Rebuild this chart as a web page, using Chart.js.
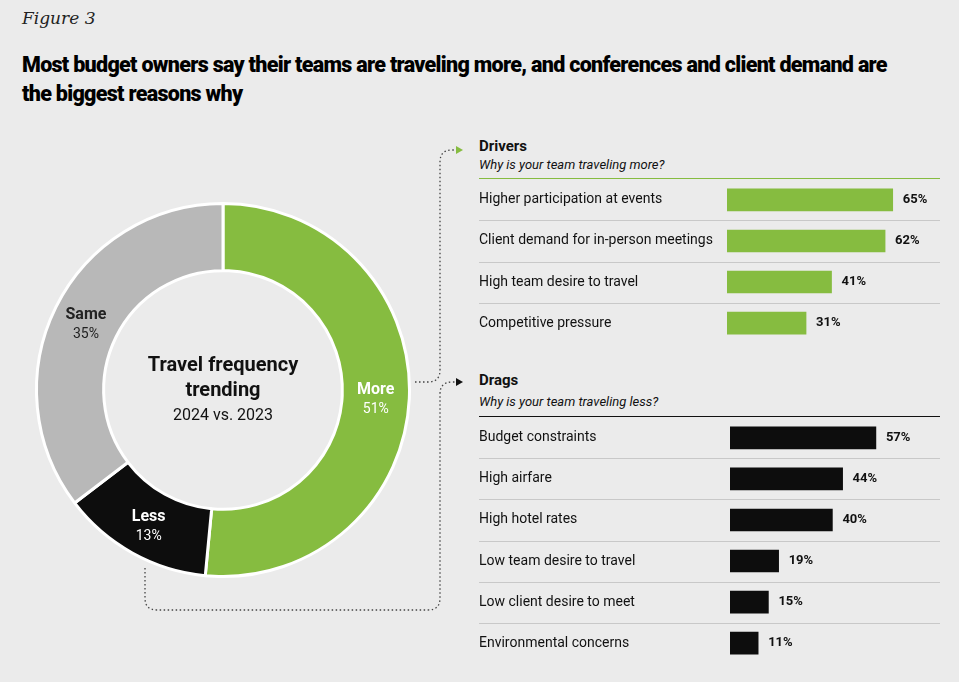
<!DOCTYPE html>
<html><head><meta charset="utf-8">
<script src="https://cdn.jsdelivr.net/npm/chart.js@4/dist/chart.umd.min.js"></script>
<style>
body{margin:0;width:959px;height:682px;background:#ebebeb;position:relative;overflow:hidden;font-family:'Liberation Sans Narrow','Roboto',sans-serif;color:#111}
.abs{position:absolute}
#fig{left:22px;top:8px;font-family:'DejaVu Serif','Liberation Serif',serif;font-style:italic;font-size:17px;color:#222}
#title{left:22px;top:50px;font-family:'Roboto','Liberation Sans',sans-serif;font-weight:900;font-size:21.5px;line-height:29px;letter-spacing:-0.7px;color:#000;width:880px}
.h{font-weight:bold;font-size:15px}
.sub{font-style:italic;font-size:13px}
</style></head><body>
<div id="fig" class="abs">Figure 3</div>
<div id="title" class="abs">Most budget owners say their teams are traveling more, and conferences and client demand are the biggest reasons why</div>
<div class="abs h" style="left:479px;top:137px">Drivers</div>
<div class="abs sub" style="left:479px;top:157px">Why is your team traveling more?</div>
<div class="abs" style="left:479px;top:178px;width:461px;height:1px;background:#86bc40"></div>
<div class="abs h" style="left:479px;top:371px">Drags</div>
<div class="abs sub" style="left:479px;top:394px">Why is your team traveling less?</div>
<div class="abs" style="left:479px;top:416px;width:461px;height:1px;background:#111"></div>
<svg class="abs" style="left:0;top:0" width="959" height="682">
<path d="M415 382 H428 Q440 382 440 370 V162 Q440 150 452 150 H460" fill="none" stroke="#444" stroke-width="1.3" stroke-dasharray="1.5,2.5"/>
<path d="M463 150 L456 146 L456 154 Z" fill="#86bc40"/>
<path d="M145 568 V598 Q145 610 157 610 H428 Q440 610 440 598 V394 Q440 382 452 382 H458" fill="none" stroke="#444" stroke-width="1.3" stroke-dasharray="1.5,2.5"/>
<path d="M463 382 L456 378 L456 386 Z" fill="#111"/>
</svg>
<div class="abs" style="left:30px;top:197px;width:386px;height:386px"><canvas id="d"></canvas></div>
<div class="abs" style="text-align:center;left:123px;top:352px;width:200px;font-size:20px;font-weight:bold;line-height:25px">Travel frequency<br>trending<div style="font-weight:normal;font-size:16px">2024 vs. 2023</div></div>
<div class="abs" style="left:470px;top:171px;width:475px;height:181px"><canvas id="c1"></canvas></div>
<div class="abs" style="left:470px;top:409px;width:475px;height:263px"><canvas id="c2"></canvas></div>
<script>
const trendLabels=['More','Less','Same'];
const trendValues=[51,13,35];
const driverLabels=['Higher participation at events','Client demand for in-person meetings','High team desire to travel','Competitive pressure'];
const driverValues=[65,62,41,31];
const dragLabels=['Budget constraints','High airfare','High hotel rates','Low team desire to travel','Low client desire to meet','Environmental concerns'];
const dragValues=[57,44,40,19,15,11];
const F="'Liberation Sans Narrow','Roboto',sans-serif";
const GREEN='#86bc40';
new Chart(document.getElementById('d'),{type:'doughnut',
 data:{labels:trendLabels,datasets:[{data:trendValues,backgroundColor:[GREEN,'#0d0d0d','#b8b8b8'],borderColor:'#fff',borderWidth:3}]},
 options:{responsive:true,maintainAspectRatio:false,animation:false,cutout:'64%',layout:{padding:5},
  plugins:{legend:{display:false},tooltip:{enabled:false}}},
 plugins:[{id:'lbl',afterDraw(ch){const c=ch.ctx;ch.getDatasetMeta(0).data.forEach((a,i)=>{const p=a.tooltipPosition();c.save();c.textAlign='center';c.fillStyle=i==2?'#222':'#fff';c.font='bold 16px '+F;c.fillText(trendLabels[i],p.x,p.y-3);c.font='14px '+F;c.fillText(trendValues[i]+'%',p.x,p.y+16);c.restore();});}}]
});
function bars(id,labels,vals,color,axisW,max){
 new Chart(document.getElementById(id),{type:'bar',
  data:{labels:labels,datasets:[{data:vals,backgroundColor:color,barThickness:22}]},
  options:{indexAxis:'y',responsive:true,maintainAspectRatio:false,animation:false,
   layout:{padding:{left:9,right:0,top:0,bottom:0}},
   scales:{x:{display:false,min:0,max:max},
    y:{grid:{display:false},border:{display:false},afterFit(s){s.width=axisW;},
     ticks:{crossAlign:'far',color:'#111',font:{size:14,family:F},padding:0}}},
   plugins:{legend:{display:false},tooltip:{enabled:false}}},
  plugins:[{id:'v',afterDraw(ch){const c=ch.ctx;const m=ch.getDatasetMeta(0);const n=labels.length;const a=ch.chartArea;const h=(a.bottom-a.top)/n;
   c.save();c.strokeStyle='#c8c8c8';c.lineWidth=1;
   for(let i=1;i<n;i++){const y=Math.round(a.top+i*h)+0.5;c.beginPath();c.moveTo(9,y);c.lineTo(ch.width-5,y);c.stroke();}
   c.fillStyle='#111';c.font='bold 13px '+F;c.textBaseline='middle';
   m.data.forEach((b,i)=>c.fillText(vals[i]+'%',b.x+10,b.y));c.restore();}}]
 });
}
bars('c1',driverLabels,driverValues,GREEN,248,85.5);
bars('c2',dragLabels,dragValues,'#0d0d0d',251,84);
</script>
</body></html>
